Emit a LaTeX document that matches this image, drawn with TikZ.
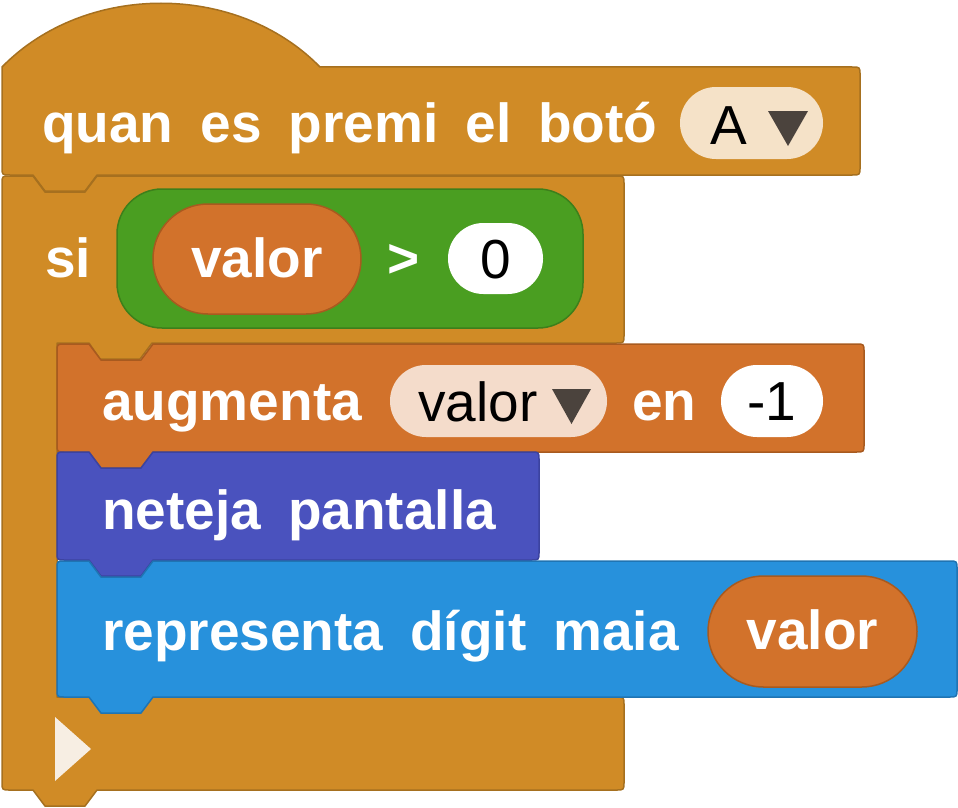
\documentclass[tikz,border=0pt]{standalone}
\usepackage{fontspec}
\setmainfont{Liberation Sans}
\definecolor{ochre}{HTML}{D08B26}
\definecolor{ochreD}{HTML}{A6701F}
\definecolor{grn}{HTML}{4A9E21}
\definecolor{grnD}{HTML}{3D7F1B}
\definecolor{org}{HTML}{D2722B}
\definecolor{orgD}{HTML}{A85A1F}
\definecolor{pur}{HTML}{4A52BE}
\definecolor{purD}{HTML}{3C43A0}
\definecolor{blu}{HTML}{2791DC}
\definecolor{bluD}{HTML}{1F74B3}
\definecolor{ddA}{HTML}{F5E2C8}
\definecolor{ddB}{HTML}{F4DCCB}
\definecolor{tri}{HTML}{4B433D}
\definecolor{arw}{HTML}{F7EEE3}
\newcommand{\stackblk}[4]{% L R T B
  ({#1},{#3+8}) .. controls ({#1},{#3}) .. ({#1+8},{#3}) -- ({#1+32},{#3}) -- ({#1+44},{#3+16}) -- ({#1+84},{#3+16}) -- ({#1+96},{#3})
  -- ({#2-8},{#3}) .. controls ({#2},{#3}) .. ({#2},{#3+8}) -- ({#2},{#4-8}) .. controls ({#2},{#4}) .. ({#2-8},{#4})
  -- ({#1+96},{#4}) -- ({#1+84},{#4+16}) -- ({#1+44},{#4+16}) -- ({#1+32},{#4}) -- ({#1+8},{#4}) .. controls ({#1},{#4}) .. ({#1},{#4-8}) -- cycle}
\begin{document}
\begin{tikzpicture}[x=1pt,y=-1pt,line join=round,
  blk/.style={line width=1.5pt},
  lbl/.style={font=\fontsize{55}{66}\selectfont\bfseries, text=white, inner sep=0pt, anchor=base west},
  lblc/.style={font=\fontsize{55}{66}\selectfont\bfseries, text=white, inner sep=0pt, anchor=base},
  valtxt/.style={font=\fontsize{55}{66}\selectfont, text=black, inner sep=0pt},
  pill/.style={rounded corners=#1},
]
\useasboundingbox (0,0) rectangle (958,808);
% hat block
\path[blk, fill=ochre, draw=ochreD]
  (2,67) .. controls (85,-18) and (237,-18) .. (320,67) -- (852,67) .. controls (860,67) .. (860,75)
  -- (860,167) .. controls (860,175) .. (852,175) -- (97,175) -- (85,191) -- (45,191) -- (33,175)
  -- (10,175) .. controls (2,175) .. (2,167) -- cycle;
% C block (si)
\path[blk, fill=ochre, draw=ochreD]
  (2,184) .. controls (2,176) .. (10,176) -- (33,176) -- (45,192) -- (85,192) -- (97,176)
  -- (616,176) .. controls (624,176) .. (624,184) -- (624,335) .. controls (624,343) .. (616,343)
  -- (152,343) -- (140,359) -- (100,359) -- (89,343) -- (57,343) -- (57,697)
  -- (616,697) .. controls (624,697) .. (624,705) -- (624,782) .. controls (624,790) .. (616,790)
  -- (97,790) -- (85,806) -- (45,806) -- (33,790) -- (10,790) .. controls (2,790) .. (2,782) -- cycle;
% inner stack blocks
\path[blk, fill=org, draw=orgD] \stackblk{57}{864}{344}{452};
\path[blk, fill=pur, draw=purD] \stackblk{57}{539}{452}{560};
\path[blk, fill=blu, draw=bluD] \stackblk{57}{957}{561}{697};
% hat contents
\node[lbl] (hatT) at (42,142) {\spaceskip=27pt\relax quan es premi el botó};
\path[fill=ddA, pill=35.9pt] (680,87) rectangle (823,159);
\node[valtxt, anchor=base west] (hatA) at (710,144) {A};
\path[fill=tri] (768,111) -- (808,111) -- (788,146) -- cycle;
% si condition
\node[lbl] (siT) at (45,277) {si};
\path[fill=grn, draw=grnD, line width=1.5pt, pill=45pt] (117,189) rectangle (583,328);
\path[fill=org, draw=orgD, line width=1.5pt, pill=54.9pt] (153,204) rectangle (361,314);
\node[lblc] (v1) at (257,277) {valor};
\node[lblc] (gt) at (404,277) {>};
\path[fill=white, pill=35.4pt] (448,223) rectangle (543,294);
\node[valtxt, anchor=base] (zero) at (495.5,278) {0};
% augmenta
\node[lbl] (augT) at (102,420) {augmenta};
\path[fill=ddB, pill=35.9pt] (390,365) rectangle (607,437);
\node[valtxt, anchor=base west] (v2) at (418,421) {valor};
\path[fill=tri] (552,389) -- (591,389) -- (571.5,424) -- cycle;
\node[lbl] (enT) at (632,420) {en};
\path[fill=white, pill=35.9pt] (721,365) rectangle (823,437);
\node[valtxt, anchor=base] (m1) at (772,420) {-1};
% neteja
\node[lbl] (netT) at (102,529) {\spaceskip=27pt\relax neteja pantalla};
% representa
\node[lbl] (repT) at (102,650) {\spaceskip=27pt\relax representa dígit maia};
\path[fill=org, draw=orgD, line width=1.5pt, pill=55.4pt] (708,576) rectangle (917,687);
\node[lblc] (v3) at (812.5,649) {valor};
% bottom arrow
\path[fill=arw] (55,717) -- (91,749) -- (55,781) -- cycle;
\end{tikzpicture}
\end{document}
